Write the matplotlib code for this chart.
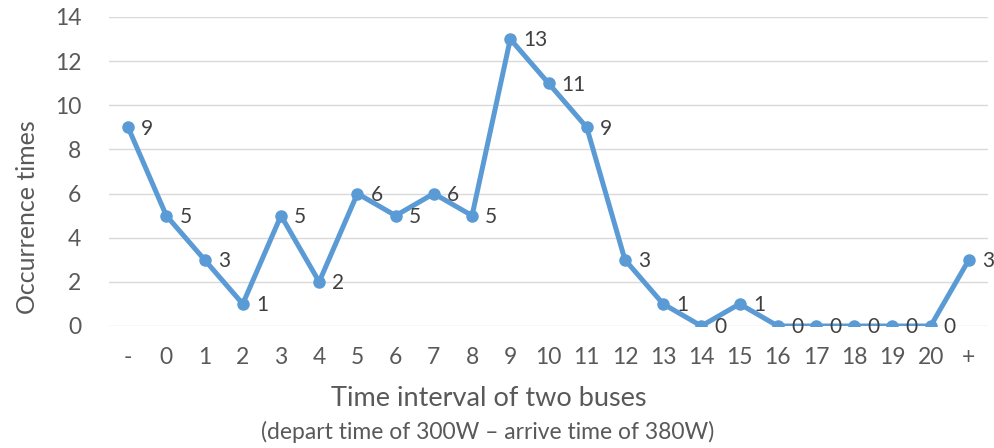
import matplotlib
matplotlib.use('Agg')
import matplotlib.pyplot as plt

plt.rcParams['font.family'] = ['Lato', 'DejaVu Sans']

# Bus interval counts
categories = ['-', '0', '1', '2', '3', '4', '5', '6', '7', '8', '9', '10',
              '11', '12', '13', '14', '15', '16', '17', '18', '19', '20', '+']
counts = [9, 5, 3, 1, 5, 2, 6, 5, 6, 5, 13, 11, 9, 3, 1, 0, 1, 0, 0, 0, 0, 0, 3]
y_ticks = [0, 2, 4, 6, 8, 10, 12, 14]

text_col = '#595959'
line_col = '#5B9BD5'

fig = plt.figure(figsize=(9.94, 4.48), dpi=100)
ax = fig.add_axes([109 / 994, 1 - 326 / 448, 879 / 994, 309 / 448])

x = list(range(len(categories)))
ax.plot(x, counts, color=line_col, linewidth=3.6, marker='o', markersize=8,
        solid_joinstyle='round', zorder=3)

for xi, v in zip(x, counts):
    ax.annotate(str(v), (xi, v), xytext=(9.5, -1), textcoords='offset points',
                ha='left', va='center', fontsize=15, color='#404040', zorder=4)

ax.set_xlim(-0.5, len(categories) - 0.5)
ax.set_ylim(0, 14)
ax.set_yticks(y_ticks)
ax.set_xticks(x)
ax.set_xticklabels(categories)
ax.tick_params(axis='both', length=0, labelsize=16.5, colors=text_col)
ax.tick_params(axis='y', pad=20)
ax.tick_params(axis='x', pad=15)
ax.grid(axis='y', color='#D9D9D9', linewidth=1)
ax.set_axisbelow(True)
for s in ax.spines.values():
    s.set_visible(False)

fig.text(28 / 994, 1 - 217 / 448, 'Occurrence times', rotation=90, ha='center',
         va='center', fontsize=18, color=text_col)
fig.text(489 / 994, 1 - 398 / 448, 'Time interval of two buses', ha='center',
         va='center', fontsize=19.5, color=text_col)
fig.text(488 / 994, 1 - 432 / 448, '(depart time of 300W \u2013 arrive time of 380W)',
         ha='center', va='center', fontsize=16.5, color=text_col)

fig.savefig('out.png', dpi=100)
